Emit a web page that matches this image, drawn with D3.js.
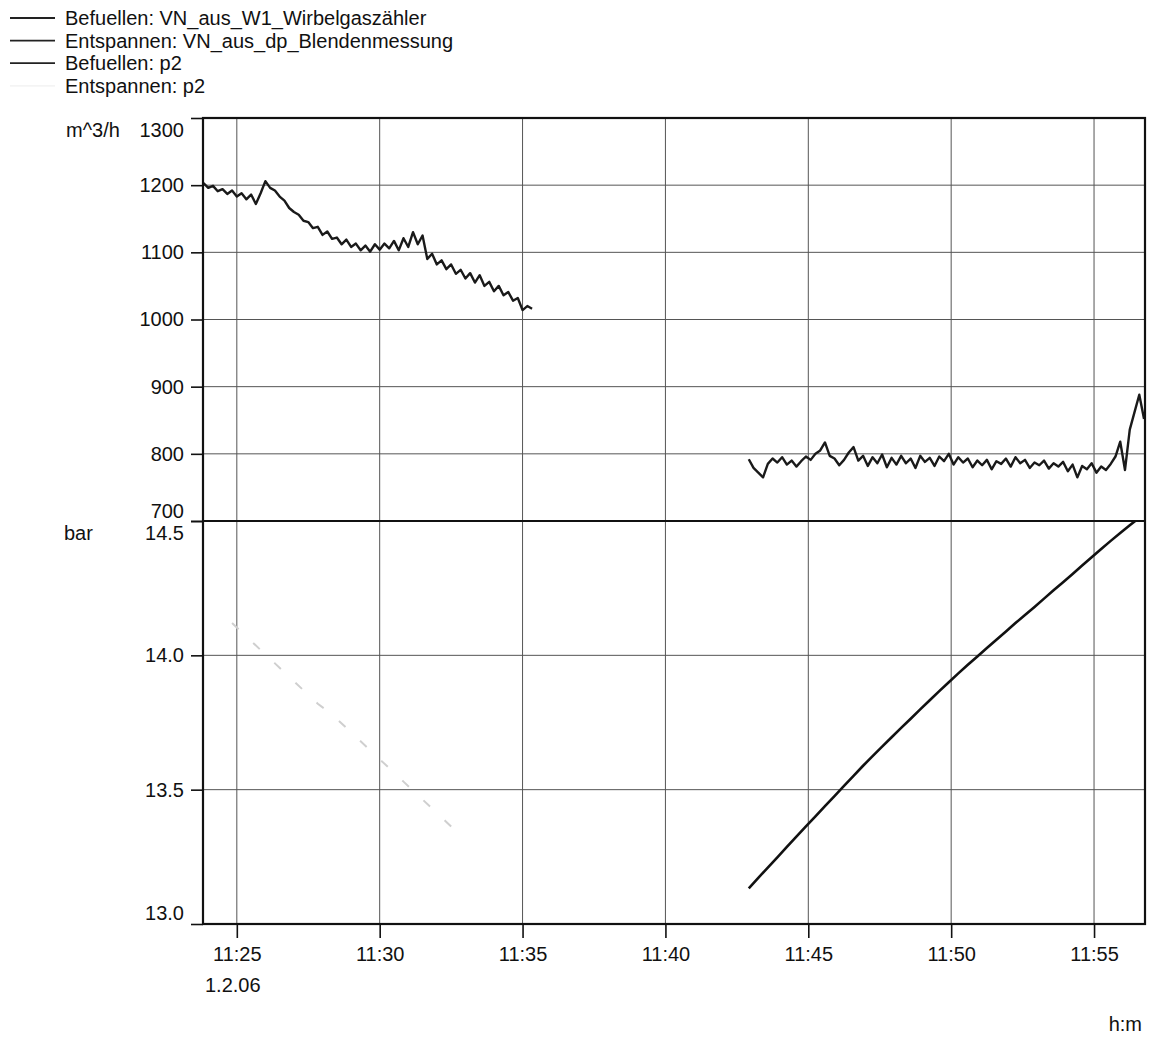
<!DOCTYPE html>
<html>
<head>
<meta charset="utf-8">
<script src="https://cdn.jsdelivr.net/npm/d3@7"></script>
<style>
  body { margin: 0; background: #fff; }
  svg { display: block; font-family: "Liberation Sans", Arial, sans-serif; }
</style>
</head>
<body>
<svg></svg>
<script>
var width = 1149,
    height = 1037;

//chart data
var legendLabels = ["Befuellen: VN_aus_W1_Wirbelgaszähler", "Entspannen: VN_aus_dp_Blendenmessung", "Befuellen: p2", "Entspannen: p2"];
var timeStart = "11:23:49",
    timeEnd = "11:56:47";
var timeTicks = ["11:25:00", "11:30:00", "11:35:00", "11:40:00", "11:45:00", "11:50:00", "11:55:00"];
var dateLabel = "1.2.06";
var flowTicks = [700, 800, 900, 1000, 1100, 1200, 1300];
var barTicks = [13.0, 13.5, 14.0, 14.5];

//Befuellen: VN_aus_W1_Wirbelgaszähler (m^3/h), one value every 10 s
var fillFlowStart = "11:23:50", fillFlowStep = 10;
var fillFlow = [1203, 1196, 1199, 1191, 1194, 1187, 1192, 1183, 1188, 1179,
  1186, 1172, 1188, 1206, 1196, 1192, 1183, 1177, 1166, 1160,
  1156, 1147, 1145, 1136, 1138, 1126, 1131, 1120, 1122, 1112,
  1119, 1108, 1113, 1103, 1110, 1101, 1112, 1104, 1113, 1106,
  1117, 1103, 1121, 1108, 1130, 1112, 1125, 1090, 1098, 1082,
  1088, 1075, 1082, 1068, 1074, 1061, 1069, 1055, 1066, 1050,
  1056, 1042, 1050, 1036, 1041, 1028, 1032, 1014, 1020, 1016];

//Entspannen: VN_aus_dp_Blendenmessung (m^3/h), one value every 10 s
var ventFlowStart = "11:42:55", ventFlowStep = 10;
var ventFlow = [792, 779, 772, 765, 785, 793, 787, 795, 784, 790,
  781, 789, 796, 791, 800, 805, 817, 797, 793, 783,
  791, 802, 810, 790, 797, 782, 795, 786, 799, 780,
  794, 784, 797, 786, 793, 779, 797, 788, 794, 782,
  796, 789, 800, 784, 795, 787, 793, 780, 790, 783,
  791, 777, 789, 785, 793, 781, 795, 786, 791, 779,
  787, 783, 790, 778, 786, 781, 788, 774, 784, 765,
  782, 777, 786, 772, 781, 776, 785, 796, 818, 776,
  836, 862, 888, 852];

//Befuellen: p2 (bar), one value every 20 s
var fillP2Start = "11:42:55", fillP2Step = 20;
var fillP2 = [13.133, 13.172, 13.210, 13.248, 13.287, 13.325, 13.363, 13.401, 13.439, 13.476,
  13.514, 13.551, 13.589, 13.625, 13.660, 13.695, 13.730, 13.764, 13.799, 13.833,
  13.867, 13.900, 13.933, 13.965, 13.996, 14.027, 14.058, 14.089, 14.120, 14.150,
  14.180, 14.211, 14.242, 14.272, 14.303, 14.334, 14.365, 14.396, 14.426, 14.455,
  14.484, 14.512];

//Entspannen: p2 (bar), one value every 30 s
var ventP2Start = "11:24:50", ventP2Step = 30;
var ventP2 = [14.12, 14.07, 14.02, 13.97, 13.92, 13.87, 13.82, 13.78, 13.73, 13.68,
  13.63, 13.58, 13.53, 13.48, 13.43, 13.38, 13.33];

//layout (window.top is reserved, so use own names)
var plotLeft = 203, plotRight = 1145, plotTop = 118, plotMid = 521, plotBottom = 924;
var fontSize = "20px", ink = "#111";

var svg = d3.select("svg")
    .attr("width", width)
    .attr("height", height);

var parseTime = d3.timeParse("%H:%M:%S");

var x = d3.scaleTime()
    .domain([parseTime(timeStart), parseTime(timeEnd)])
    .range([plotLeft, plotRight]);
var yFlow = d3.scaleLinear().domain([700, 1300]).range([plotMid, plotTop]);
var yBar = d3.scaleLinear().domain([13.0, 14.5]).range([plotBottom, plotMid]);

function toPoints(start, step, values) {
  var t0 = parseTime(start);
  return values.map(function(v, i) {
    return { t: d3.timeSecond.offset(t0, i * step), v: v };
  });
}

//clip each panel
var defs = svg.append("defs");
defs.append("clipPath").attr("id", "clipTop")
  .append("rect").attr("x", plotLeft).attr("y", plotTop)
  .attr("width", plotRight - plotLeft).attr("height", plotMid - plotTop);
defs.append("clipPath").attr("id", "clipBottom")
  .append("rect").attr("x", plotLeft).attr("y", plotMid)
  .attr("width", plotRight - plotLeft).attr("height", plotBottom - plotMid);

//grid
var grid = svg.append("g").attr("class", "grid")
  .attr("stroke", "#555")
  .attr("stroke-width", 1);
grid.selectAll(".vgrid")
    .data(timeTicks.map(parseTime))
  .enter().append("line")
    .attr("x1", function(d) { return x(d); })
    .attr("x2", function(d) { return x(d); })
    .attr("y1", plotTop)
    .attr("y2", plotBottom);
grid.selectAll(".hflow")
    .data(flowTicks.slice(1, -1))
  .enter().append("line")
    .attr("x1", plotLeft).attr("x2", plotRight)
    .attr("y1", function(d) { return yFlow(d); })
    .attr("y2", function(d) { return yFlow(d); });
grid.selectAll(".hbar")
    .data(barTicks.slice(1, -1))
  .enter().append("line")
    .attr("x1", plotLeft).attr("x2", plotRight)
    .attr("y1", function(d) { return yBar(d); })
    .attr("y2", function(d) { return yBar(d); });

//lines
var flowLine = d3.line()
  .x(function(d) { return x(d.t); })
  .y(function(d) { return yFlow(d.v); });
var barLine = d3.line()
  .x(function(d) { return x(d.t); })
  .y(function(d) { return yBar(d.v); });

var topPanel = svg.append("g").attr("clip-path", "url(#clipTop)");
var bottomPanel = svg.append("g").attr("clip-path", "url(#clipBottom)");

bottomPanel.append("path")
  .attr("d", barLine(toPoints(ventP2Start, ventP2Step, ventP2)))
  .attr("fill", "none")
  .attr("stroke", "#cfcfcf")
  .attr("stroke-width", 2)
  .attr("stroke-dasharray", "9,20");

//noisy flow signals drawn as a dark band
[[fillFlowStart, fillFlowStep, fillFlow], [ventFlowStart, ventFlowStep, ventFlow]].forEach(function(s) {
  topPanel.append("path")
    .attr("d", flowLine(toPoints(s[0], s[1], s[2])))
    .attr("fill", "none")
    .attr("stroke", "#1a1a1a")
    .attr("stroke-width", 2.4)
    .attr("stroke-linejoin", "round");
});

bottomPanel.append("path")
  .attr("d", barLine(toPoints(fillP2Start, fillP2Step, fillP2)))
  .attr("fill", "none")
  .attr("stroke", "#111")
  .attr("stroke-width", 2.6)
  .attr("stroke-linejoin", "round");

//frame
var frame = svg.append("g")
  .attr("stroke", ink)
  .attr("stroke-width", 2.2)
  .attr("fill", "none");
frame.append("rect")
  .attr("x", plotLeft).attr("y", plotTop)
  .attr("width", plotRight - plotLeft).attr("height", plotBottom - plotTop);
frame.append("line")
  .attr("x1", plotLeft).attr("x2", plotRight)
  .attr("y1", plotMid).attr("y2", plotMid);

//axes
function styleAxis(sel) {
  sel.select(".domain").remove();
  sel.selectAll(".tick line").attr("stroke", ink).attr("stroke-width", 1.6);
  sel.selectAll(".tick text")
    .attr("fill", ink)
    .style("font-size", fontSize)
    .style("font-family", "'Liberation Sans', Arial, sans-serif");
}

var flowAxis = svg.append("g")
  .attr("transform", "translate(" + plotLeft + ",0)")
  .call(d3.axisLeft(yFlow).tickValues(flowTicks).tickFormat(d3.format("d")).tickSize(12).tickPadding(7))
  .call(styleAxis);

var barAxis = svg.append("g")
  .attr("transform", "translate(" + plotLeft + ",0)")
  .call(d3.axisLeft(yBar).tickValues(barTicks).tickFormat(d3.format(".1f")).tickSize(12).tickPadding(7))
  .call(styleAxis);

//end labels move inside the panel
flowAxis.selectAll(".tick text").attr("transform", function(d) {
  if (d == 1300) return "translate(0,12)";
  if (d == 700) return "translate(0,-10)";
  return null;
});
barAxis.selectAll(".tick text").attr("transform", function(d) {
  if (d == 14.5) return "translate(0,12)";
  if (d == 13.0) return "translate(0,-11)";
  return null;
});

svg.append("g")
  .attr("transform", "translate(0," + plotBottom + ")")
  .call(d3.axisBottom(x).tickValues(timeTicks.map(parseTime)).tickFormat(d3.timeFormat("%H:%M")).tickSize(14).tickPadding(9))
  .call(styleAxis);

//units and date
var labels = svg.append("g")
  .attr("fill", ink)
  .style("font-size", fontSize);
labels.append("text").attr("x", 66).attr("y", 130).attr("dy", "0.35em").text("m^3/h");
labels.append("text").attr("x", 64).attr("y", 533).attr("dy", "0.35em").text("bar");
labels.append("text")
  .attr("x", x(parseTime(timeTicks[0])) - 4)
  .attr("y", 985).attr("dy", "0.35em")
  .attr("text-anchor", "middle")
  .text(dateLabel);
labels.append("text")
  .attr("x", 1142).attr("y", 1024).attr("dy", "0.35em")
  .attr("text-anchor", "end")
  .text("h:m");

//legend
var legendColors = ["#222", "#222", "#222", "#f4f4f4"];
var legend = svg.append("g").attr("class", "legend")
  .selectAll("g")
    .data(legendLabels)
  .enter().append("g")
    .attr("transform", function(d, i) { return "translate(0," + (18 + i * 22.6) + ")"; });
legend.append("line")
  .attr("x1", 10).attr("x2", 55)
  .attr("y1", 0).attr("y2", 0)
  .attr("stroke", function(d, i) { return legendColors[i]; })
  .attr("stroke-width", 1.8);
legend.append("text")
  .attr("x", 65)
  .attr("dy", "0.35em")
  .attr("fill", ink)
  .style("font-size", fontSize)
  .text(function(d) { return d; });
</script>
</body>
</html>
